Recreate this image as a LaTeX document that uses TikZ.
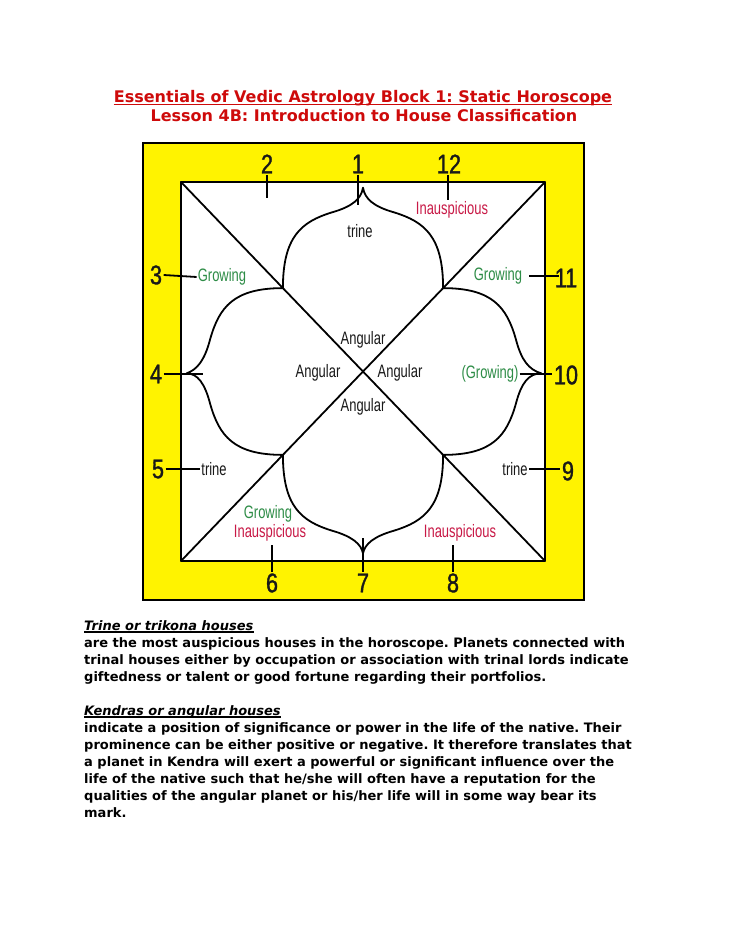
\documentclass[tikz,border=0pt]{standalone}
\usepackage{fontspec}
\setmainfont{DejaVu Sans}
\newfontfamily\hand[FakeStretch=0.72]{Liberation Sans}
\newfontfamily\handnum[FakeStretch=0.8,FakeBold=1.2]{Liberation Sans}
\definecolor{ttred}{RGB}{206,10,10}
\definecolor{ygold}{RGB}{255,243,0}
\definecolor{hgreen}{RGB}{45,140,70}
\definecolor{hred}{RGB}{200,25,70}
\definecolor{hblack}{RGB}{25,25,25}
\frenchspacing
\begin{document}
\begin{tikzpicture}[x=1pt,y=-1pt,
  ttl/.style={anchor=base, inner sep=0, text=ttred, font=\fontsize{16}{18}\selectfont\bfseries},
  body/.style={anchor=base west, inner sep=0, text=black, font=\fontsize{13}{15}\selectfont\bfseries},
  bodyhead/.style={anchor=base west, inner sep=0, text=black, font=\fontsize{13}{15}\selectfont\bfseries\itshape},
  num/.style={inner sep=1.5pt, text=hblack, font=\handnum\fontsize{27}{27}\selectfont},
  lab/.style={inner sep=1pt, font=\hand\fontsize{18}{18}\selectfont},
  growlab/.style={lab, text=hgreen},
  inaus/.style={lab, text=hred},
  blk/.style={lab, text=hblack},
  chartline/.style={line width=1.8pt, black, line cap=round, line join=round},
  tick/.style={line width=1.8pt, black},
  uline/.style={line width=1.2pt}
]
\useasboundingbox (0,0) rectangle (728,942);
\fill[white] (0,0) rectangle (728,942);

% ---------- title ----------
\node[ttl] (t1) at (363,102) {Essentials of Vedic Astrology Block 1: Static Horoscope\ };
\node[ttl] (t2) at (364,121) {Lesson 4B: Introduction to House Classification};
\draw[uline, ttred] ([yshift=-2.5pt]t1.base west) -- ([yshift=-2.5pt]t1.base east);

% ---------- chart frame ----------
\draw[line width=1.5pt, fill=ygold] (143,143) rectangle (584,600);
\coordinate (tl) at (181,182);
\coordinate (tr) at (545,182);
\coordinate (bl) at (181,561);
\coordinate (br) at (545,561);
\draw[chartline, fill=white] (tl) -- (tr) -- (br) -- (bl) -- cycle;
\draw[chartline] (tl) -- (br);
\draw[chartline] (tr) -- (bl);

% ---------- lotus ----------
\begin{scope}[shift={(363pt,-371.5pt)}, x=182pt, y=189.5pt]
\coordinate (tipT) at (0,0.97);
\coordinate (tipR) at (0.98,-0.01);
\coordinate (tipB) at (0,-0.96);
\coordinate (tipL) at (-0.97,-0.01);
\draw[chartline]
  (-0.44,0.44) .. controls (-0.44,0.71) and (-0.34,0.79) .. (-0.17,0.84)
  .. controls (-0.06,0.87) and (-0.01,0.91) .. (tipT)
  .. controls (0.01,0.91) and (0.06,0.87) .. (0.17,0.84)
  .. controls (0.34,0.79) and (0.44,0.71) .. (0.44,0.44)
  .. controls (0.71,0.44) and (0.79,0.34) .. (0.84,0.17)
  .. controls (0.87,0.06) and (0.91,0.01) .. (tipR)
  .. controls (0.91,-0.01) and (0.87,-0.06) .. (0.84,-0.17)
  .. controls (0.79,-0.34) and (0.71,-0.44) .. (0.44,-0.44)
  .. controls (0.44,-0.71) and (0.34,-0.79) .. (0.17,-0.84)
  .. controls (0.06,-0.87) and (0.01,-0.91) .. (tipB)
  .. controls (-0.01,-0.91) and (-0.06,-0.87) .. (-0.17,-0.84)
  .. controls (-0.34,-0.79) and (-0.44,-0.71) .. (-0.44,-0.44)
  .. controls (-0.71,-0.44) and (-0.79,-0.34) .. (-0.84,-0.17)
  .. controls (-0.87,-0.06) and (-0.91,-0.01) .. (tipL)
  .. controls (-0.91,0.01) and (-0.87,0.06) .. (-0.84,0.17)
  .. controls (-0.79,0.34) and (-0.71,0.44) .. (-0.44,0.44) -- cycle;
\end{scope}

% ---------- house numbers ----------
\node[num] (n2) at (267,164) {2};
\node[num] (n1) at (358,164) {1};
\node[num] (n12) at (449,164) {12};
\node[num] (n3) at (156,275) {3};
\node[num] (n4) at (156,374) {4};
\node[num] (n5) at (158,469) {5};
\node[num] (n11) at (566,278) {11};
\node[num] (n10) at (566,375) {10};
\node[num] (n9) at (568,471) {9};
\node[num] (n6) at (272,583) {6};
\node[num] (n7) at (363,583) {7};
\node[num] (n8) at (453,583) {8};

% ---------- labels ----------
\node[blk] (trT) at (360,231) {trine};
\node[inaus] (inT) at (452,210) {Inauspicious};
\node[growlab] (g3) at (222,277) {Growing};
\node[growlab] (g11) at (498,276) {Growing};
\node[blk] (aT) at (363,340) {Angular};
\node[blk] (aL) at (318,373) {Angular};
\node[blk] (aR) at (400,373) {Angular};
\node[blk] (aB) at (363,407) {Angular};
\node[growlab] (g10) at (490,374) {(Growing)};
\node[blk] (tr5) at (214,469) {trine};
\node[blk] (tr9) at (515,469) {trine};
\node[growlab] (g6) at (268,514) {Growing};
\node[inaus] (in6) at (270,533) {Inauspicious};
\node[inaus] (in8) at (460,533) {Inauspicious};

% ---------- ticks / connectors ----------
\coordinate (k2) at (267,198);
\coordinate (k1) at (358,205);
\coordinate (k12) at (448,200);
\coordinate (k4) at (203,374);
\coordinate (k7) at (363,538);
\coordinate (k6) at (272,545);
\coordinate (k8) at (453,545);
\draw[tick] (n2.south) -- (k2);
\draw[tick] (n1.south) -- (k1);
\draw[tick] (n12.south -| k12) -- (k12);
\draw[tick] (n3.east) -- (g3.west);
\draw[tick] (n4.east) -- (k4);
\draw[tick] (n5.east) -- (tr5.west);
\draw[tick] ([xshift=6pt]g11.east) -- ([xshift=6pt]g11.east -| n11.west);
\draw[tick] (g10.east) -- (g10.east -| n10.west);
\draw[tick] (tr9.east) -- (tr9.east -| n9.west);
\draw[tick] (k6) -- (n6.north);
\draw[tick] (k7) -- (n7.north);
\draw[tick] (k8) -- (n8.north);

% ---------- body text ----------
\node[bodyhead] (h1) at (84,630) {Trine or trikona houses};
\draw[uline] ([yshift=-2pt]h1.base west) -- ([yshift=-2pt]h1.base east);
\node[body] (l1) at (84,647) {are the most auspicious houses in the horoscope. Planets connected with};
\node[body] (l2) at (84,664) {trinal houses either by occupation or association with trinal lords indicate};
\node[body] (l3) at (84,681) {giftedness or talent or good fortune regarding their portfolios.};
\node[bodyhead] (h2) at (84,715) {Kendras or angular houses};
\draw[uline] ([yshift=-2pt]h2.base west) -- ([yshift=-2pt]h2.base east);
\node[body] (m1) at (84,732) {indicate a position of significance or power in the life of the native. Their};
\node[body] (m2) at (84,749) {prominence can be either positive or negative. It therefore translates that};
\node[body] (m3) at (84,766) {a planet in Kendra will exert a powerful or significant influence over the};
\node[body] (m4) at (84,783) {life of the native such that he/she will often have a reputation for the};
\node[body] (m5) at (84,800) {qualities of the angular planet or his/her life will in some way bear its};
\node[body] (m6) at (84,817) {mark.};
\end{tikzpicture}
\end{document}
